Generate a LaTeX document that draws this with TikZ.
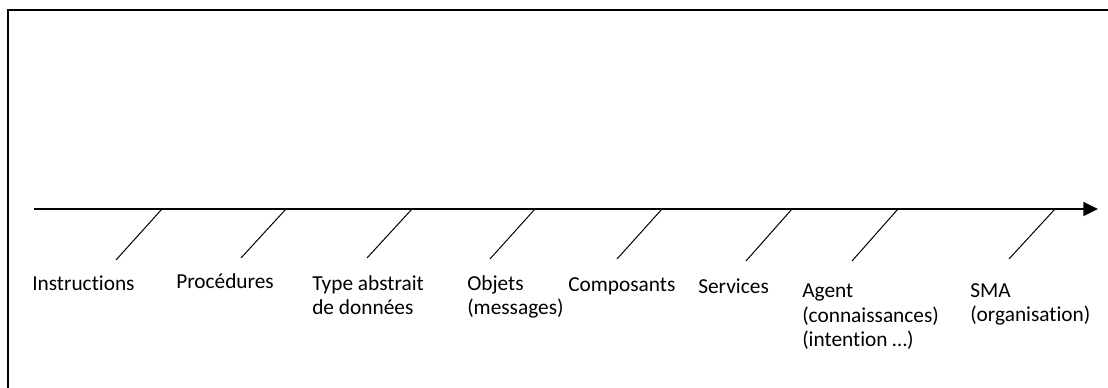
\documentclass[tikz,border=0pt]{standalone}
\usepackage{fontspec}
\setmainfont{Carlito}[Ligatures={NoCommon}]
\usetikzlibrary{arrows.meta}
\tikzset{
  frameline/.style={line width=1.4pt},
  axisline/.style={line width=1.1pt,-{Triangle[length=11pt,width=10.5pt]}},
  tickline/.style={line width=0.75pt},
  lbl/.style={anchor=base west,inner sep=0pt,align=left,
    font=\fontsize{16}{18.5}\selectfont},
}
\begin{document}
\begin{tikzpicture}[x=0.75pt,y=-0.75pt]
\useasboundingbox (0,0) rectangle (1108,388);
% frame edges
\coordinate (tl) at (8,10);
\coordinate (bl) at (8,388);
\coordinate (tr) at (1108,10);
\draw[frameline] (bl) -- (tl) -- (tr);
% evolution axis
\coordinate (ax0) at (34,209);
\coordinate (ax1) at (1098,209);
\draw[axisline] (ax0) -- (ax1);
% oblique ticks on the axis
\foreach \i/\xt/\xb/\yb in {1/162/116/260, 2/286/241/258, 3/412/367/258,
  4/535/490/259, 5/662/617/259, 6/792/746/261, 7/898/852/261, 8/1055/1009/259}{
  \coordinate (t\i) at (\xt,209);
  \coordinate (b\i) at (\xb,\yb);
  \draw[tickline] (t\i) -- (b\i);
}
% labels (anchored on the baseline of their last line)
\node[lbl] (l1) at (32,291) {Instructions};
\node[lbl] (l2) at (176,289) {Procédures};
\node[lbl] (l3) at (312,315) {Type abstrait\\de données};
\node[lbl] (l4) at (467,315) {Objets\\(messages)};
\node[lbl] (l5) at (568,292) {Composants};
\node[lbl] (l6) at (698,294) {Services};
\node[lbl] (l7) at (802,347) {Agent\\(connaissances)\\(intention …)};
\node[lbl] (l8) at (970,322) {SMA\\(organisation)};
\end{tikzpicture}
\end{document}
